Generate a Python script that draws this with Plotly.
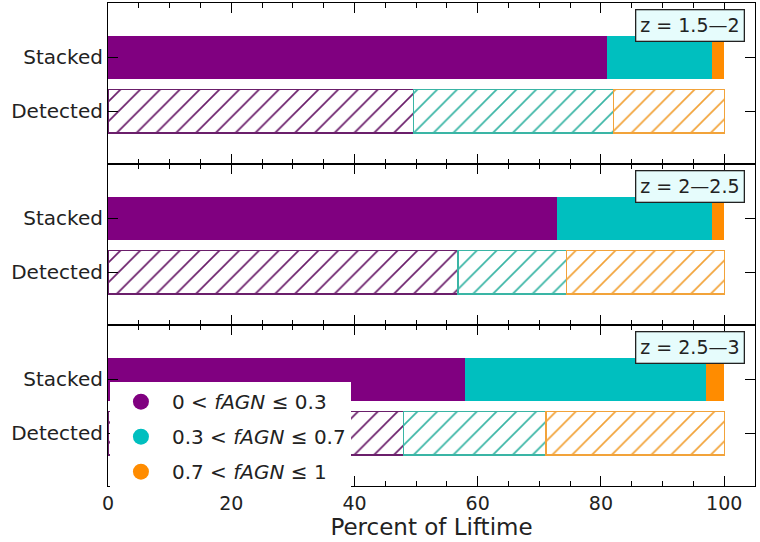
import plotly.graph_objects as go
from plotly.subplots import make_subplots

categories = ["Detected", "Stacked"]
panel_labels = ["z = 1.5—2", "z = 2—2.5", "z = 2.5—3"]
bin_names = ["0 < <i>fAGN</i> ≤ 0.3", "0.3 < <i>fAGN</i> ≤ 0.7", "0.7 < <i>fAGN</i> ≤ 1"]
bin_colors = ["#800080", "#00bfbf", "#ff8c00"]
hatch_colors = ["#6b1f6b", "#3ab5a5", "#f2a33a"]

# segment widths (percent of lifetime) per panel, per fAGN bin
stacked = [
    [81.0, 17.1, 1.9],
    [72.9, 25.2, 1.9],
    [57.9, 39.1, 3.0],
]
detected = [
    [49.6, 32.4, 18.0],
    [56.8, 17.6, 25.6],
    [48.0, 23.1, 28.9],
]

fig = make_subplots(rows=3, cols=1, shared_xaxes=True, vertical_spacing=0)

for p in range(3):
    for b in range(3):
        fig.add_trace(go.Bar(
            y=["Stacked"], x=[stacked[p][b]], orientation="h", width=0.8,
            marker=dict(color=bin_colors[b], line=dict(width=0)),
            showlegend=False, hoverinfo="skip"), row=p + 1, col=1)
        fig.add_trace(go.Bar(
            y=["Detected"], x=[detected[p][b]], orientation="h", width=0.8,
            marker=dict(color="white",
                        line=dict(color=hatch_colors[b], width=1.3),
                        pattern=dict(shape="/", fgcolor=hatch_colors[b], bgcolor="white",
                                     fgopacity=1, size=14, solidity=0.12, fillmode="overlay")),
            showlegend=False, hoverinfo="skip"), row=p + 1, col=1)
    fig.add_annotation(text=panel_labels[p], xref=f"x{'' if p == 0 else p + 1} domain",
                       yref=f"y{'' if p == 0 else p + 1} domain", x=0.985, y=0.965,
                       xanchor="right", yanchor="top", showarrow=False,
                       font=dict(size=19, color="#222"), bgcolor="#e6fcfc",
                       bordercolor="#222", borderwidth=1.3, borderpad=4)

for b in range(3):
    fig.add_trace(go.Scatter(x=[None], y=[None], mode="markers", name=bin_names[b],
                             legendgroup=f"g{b}",
                             marker=dict(color=bin_colors[b], size=24, symbol="circle")),
                  row=3, col=1)

for r in range(1, 4):
    fig.update_xaxes(range=[0, 105], showline=True, linecolor="black", linewidth=1.2, mirror="allticks",
                     ticks="inside", ticklen=10, tickwidth=1, tickcolor="black",
                     tick0=0, dtick=20, showgrid=False, zeroline=False,
                     minor=dict(ticks="inside", ticklen=5, dtick=5, tickcolor="black", showgrid=False),
                     tickfont=dict(size=19, color="#222"), row=r, col=1)
    fig.update_yaxes(type="category", categoryorder="array", categoryarray=categories,
                     range=[-0.97, 2.0], showline=True, linecolor="black", linewidth=1.2,
                     mirror="allticks", ticks="inside", ticklen=10, tickcolor="black",
                     showgrid=False, zeroline=False, tickfont=dict(size=20, color="#222"),
                     row=r, col=1)
fig.update_xaxes(showticklabels=True, title=dict(text="Percent of Liftime", font=dict(size=23, color="#222"), standoff=2),
                 row=3, col=1)

fig.update_layout(
    width=760, height=542, barmode="stack", bargap=0.2,
    margin=dict(l=108, r=5, t=3, b=56),
    plot_bgcolor="white", paper_bgcolor="white",
    font=dict(family="DejaVu Sans", color="#222"),
    legend=dict(x=0.003, y=0.215, xanchor="left", yanchor="top", bgcolor="white",
                font=dict(size=20, color="#222"), itemsizing="trace", itemwidth=52,
                traceorder="grouped", tracegroupgap=6),
)

fig.write_html("out.html")
